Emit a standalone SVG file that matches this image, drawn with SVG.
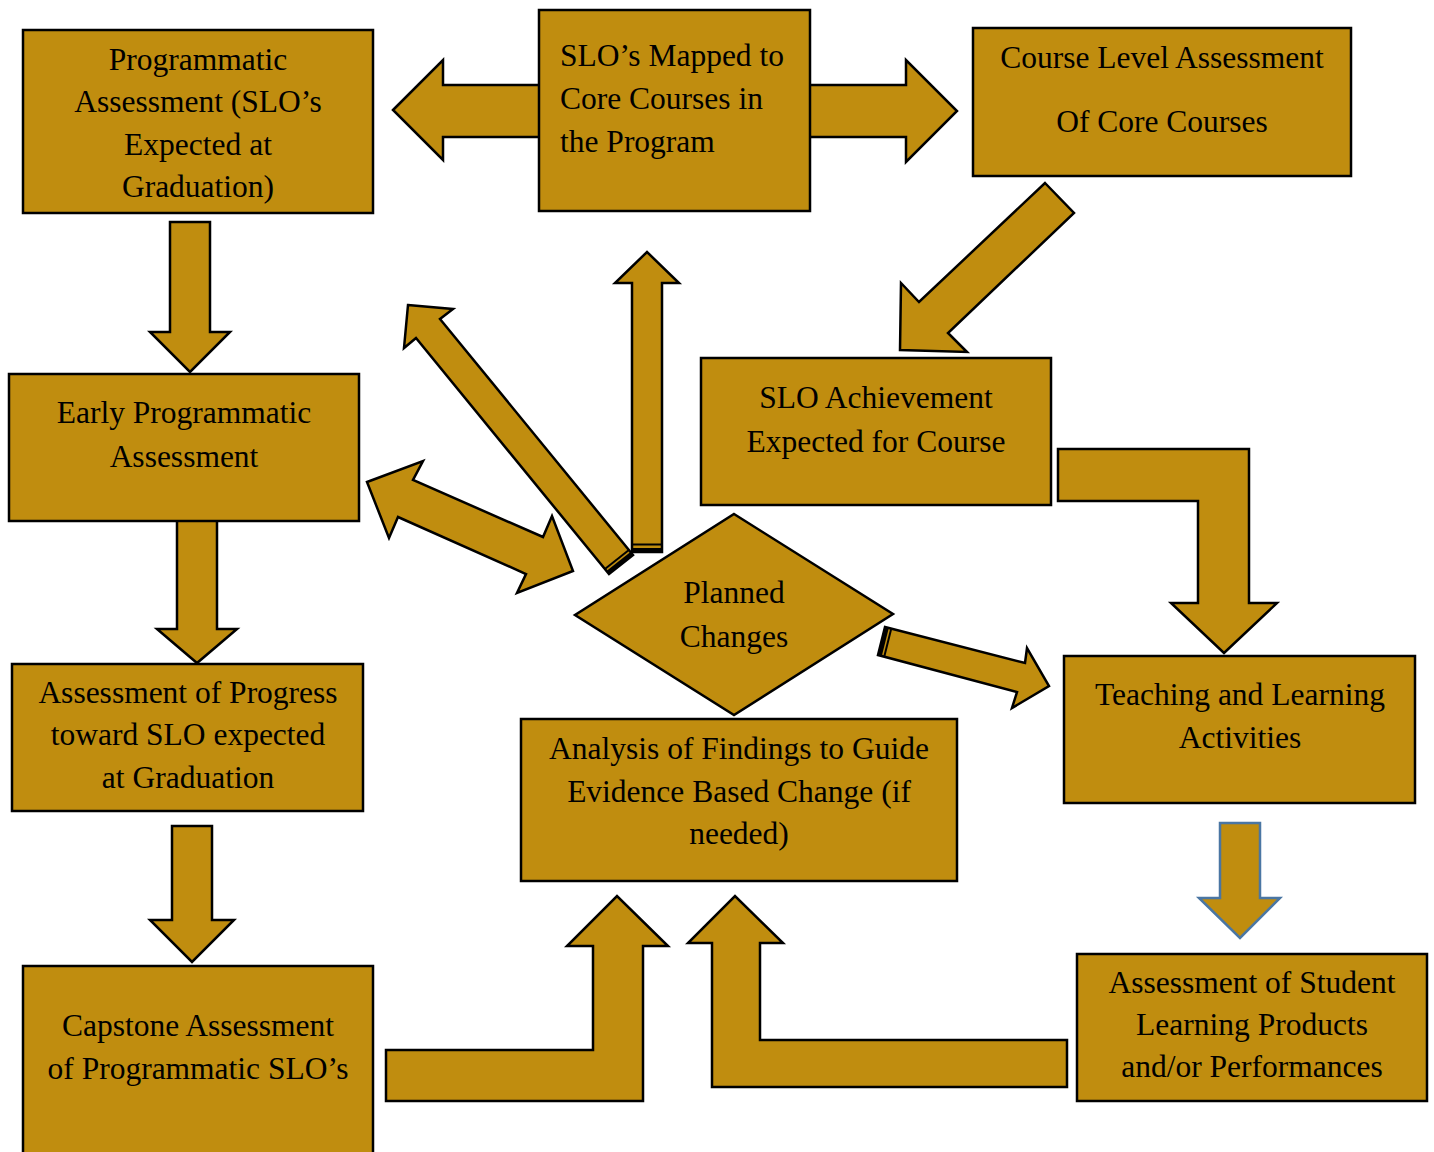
<svg xmlns="http://www.w3.org/2000/svg" width="1434" height="1152" viewBox="0 0 1434 1152">
<style>
.n{fill:#C08D0F;stroke:#000;stroke-width:2.5;stroke-linejoin:miter}
.a{fill:#C08D0F;stroke:#000;stroke-width:2.5;stroke-linejoin:miter}
.b{fill:#C08D0F;stroke:#4A76A3;stroke-width:2.5}
.s1{stroke:#000;stroke-width:4;fill:none}
.s2{stroke:#000;stroke-width:2;fill:none}
text{font-family:"Liberation Serif","Times New Roman",serif;font-size:31.5px;fill:#000}
.c{text-anchor:middle}
</style>
<rect width="1434" height="1152" fill="#fff"/>
<g id="connectors">
<polygon id="c-slo-double" class="a" points="393,110 443,60 443,85 906,85 906,60 957,111 906,162 906,137 443,137 443,160"/>
<polygon id="c-prog-early" class="a" points="170,222 210,222 210,332 230,332 190,372 150,332 170,332"/>
<polygon id="c-early-progress" class="a" points="177,516 217,516 217,629 237,629 197,663 157,629 177,629"/>
<polygon id="c-progress-capstone" class="a" points="172,826 212,826 212,920 234,920 192,962 150,920 172,920"/>
<polygon id="c-course-achv" class="a" points="1045,183 1074,213 948,333 967,352 900,350 901,283 919,302"/>
<polygon id="c-achv-teach" class="a" points="1058,449 1249,449 1249,603 1277,603 1224,653 1171,603 1198,603 1198,501 1058,501"/>
<polygon id="c-teach-student" class="b" points="1220,823 1260,823 1260,898 1280,898 1240,938 1199,898 1220,898"/>
<polygon id="c-capstone-analysis" class="a" points="386,1050 593,1050 593,946 567,946 617,896 668,946 643,946 643,1101 386,1101"/>
<polygon id="c-student-analysis" class="a" points="1067,1040 760,1040 760,943 783,943 735,896 688,943 712,943 712,1087 1067,1087"/>
<g id="c-planned-prog">
<polygon class="a" points="408,305 453,309 440,319 633,555 609,574 416,338 404,348"/>
<line class="s1" x1="631.7" y1="553.5" x2="607.7" y2="572.5"/>
<line class="s2" x1="628.9" y1="550" x2="604.9" y2="569"/>
</g>
<g id="c-planned-slo">
<polygon class="a" points="632,552 632,283 615,283 647,252 679,283 662,283 662,552"/>
<line class="s1" x1="632" y1="550" x2="662" y2="550"/>
<line class="s2" x1="632" y1="544.5" x2="662" y2="544.5"/>
</g>
<polygon id="c-early-planned" class="a" points="367,482 423,461 413,480 543,537 552,516 573,571 517,593 526,574 398,517 389,538"/>
<g id="c-planned-teach">
<polygon class="a" points="885,627 1025,663 1027,648 1049,686 1012,708 1017,692 878,655"/>
<line class="s1" x1="886.9" y1="627.5" x2="879.9" y2="655.5"/>
<line class="s2" x1="891.3" y1="628.6" x2="884.3" y2="656.6"/>
</g>
</g>
<g id="n-prog">
<rect class="n" x="23" y="30" width="350" height="183"/>
<text class="c" x="198" y="70">Programmatic</text>
<text class="c" x="198" y="112">Assessment (SLO’s</text>
<text class="c" x="198" y="155">Expected at</text>
<text class="c" x="198" y="197">Graduation)</text>
</g>
<g id="n-slo-mapped">
<rect class="n" x="539" y="10" width="271" height="201"/>
<text x="560" y="66">SLO’s Mapped to</text>
<text x="560" y="109">Core Courses in</text>
<text x="560" y="152">the Program</text>
</g>
<g id="n-course">
<rect class="n" x="973" y="28" width="378" height="148"/>
<text class="c" x="1162" y="68">Course Level Assessment</text>
<text class="c" x="1162" y="132">Of Core Courses</text>
</g>
<g id="n-early">
<rect class="n" x="9" y="374" width="350" height="147"/>
<text class="c" x="184" y="423">Early Programmatic</text>
<text class="c" x="184" y="467">Assessment</text>
</g>
<g id="n-achv">
<rect class="n" x="701" y="358" width="350" height="147"/>
<text class="c" x="876" y="408">SLO Achievement</text>
<text class="c" x="876" y="452">Expected for Course</text>
</g>
<g id="n-progress">
<rect class="n" x="12" y="664" width="351" height="147"/>
<text class="c" x="188" y="703">Assessment of Progress</text>
<text class="c" x="188" y="745">toward SLO expected</text>
<text class="c" x="188" y="788">at Graduation</text>
</g>
<g id="n-planned">
<polygon class="n" points="734,514 893,614 734,715 575,615"/>
<text class="c" x="734" y="603">Planned</text>
<text class="c" x="734" y="647">Changes</text>
</g>
<g id="n-analysis">
<rect class="n" x="521" y="719" width="436" height="162"/>
<text class="c" x="739" y="759">Analysis of Findings to Guide</text>
<text class="c" x="739" y="802">Evidence Based Change (if</text>
<text class="c" x="739" y="844">needed)</text>
</g>
<g id="n-teach">
<rect class="n" x="1064" y="656" width="351" height="147"/>
<text class="c" x="1240" y="705">Teaching and Learning</text>
<text class="c" x="1240" y="748">Activities</text>
</g>
<g id="n-student">
<rect class="n" x="1077" y="954" width="350" height="147"/>
<text class="c" x="1252" y="993">Assessment of Student</text>
<text class="c" x="1252" y="1035">Learning Products</text>
<text class="c" x="1252" y="1077">and/or Performances</text>
</g>
<g id="n-capstone">
<rect class="n" x="23" y="966" width="350" height="200"/>
<text class="c" x="198" y="1036">Capstone Assessment</text>
<text class="c" x="198" y="1079">of Programmatic SLO’s</text>
</g>
</svg>
